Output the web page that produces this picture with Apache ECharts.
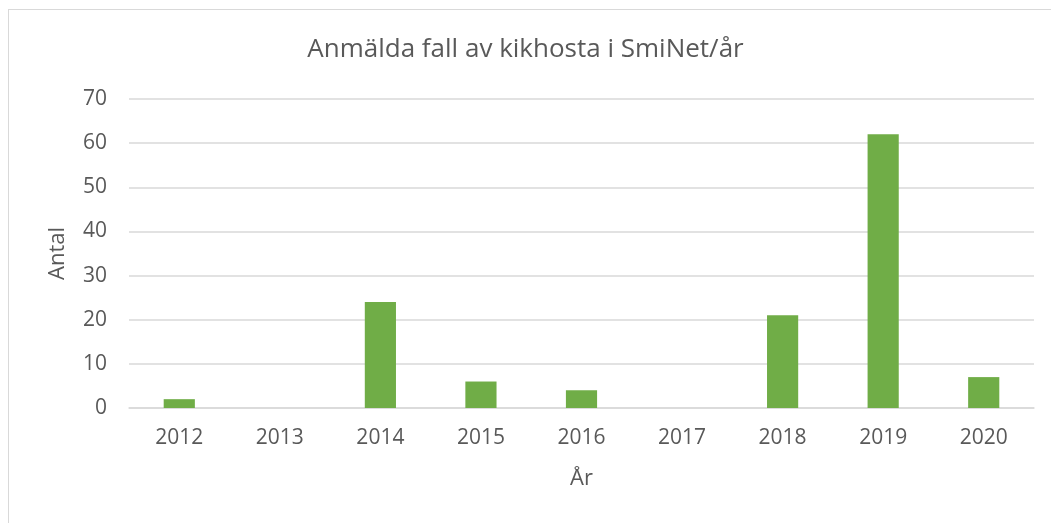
<!DOCTYPE html>
<html>
<head>
<meta charset="utf-8">
<script src="https://cdn.jsdelivr.net/npm/echarts@6/dist/echarts.min.js"></script>
<style>
  html, body { margin: 0; padding: 0; background: #fff; overflow: hidden; }
  #frame { position: absolute; left: 8px; top: 9px; width: 1100px; height: 600px; border: 1px solid #d9d9d9; box-sizing: border-box; }
  #chart { width: 1051px; height: 523px; position: absolute; left: 0; top: 0; }
</style>
</head>
<body>
<div id="frame"></div>
<div id="chart"></div>
<script>
// kategorier och värden
var years = ['2012', '2013', '2014', '2015', '2016', '2017', '2018', '2019', '2020']
var cases = [2, 0, 24, 6, 4, 0, 21, 62, 7]

var fontFamily = 'Open Sans, Noto Sans, sans-serif'
var textColor = '#595959'

var myChart = echarts.init(document.getElementById('chart'))

let option = {
    animation: false,
    title: {
        text: 'Anmälda fall av kikhosta i SmiNet/år',
        left: 'center',
        top: 32,
        textStyle: {
            fontFamily: fontFamily,
            fontSize: 26,
            fontWeight: 'normal',
            color: textColor
        }
    },
    grid: {
        left: 129,
        right: 17,
        top: 99,
        bottom: 115
    },
    xAxis: {
        type: 'category',
        data: years,
        name: 'År',
        nameLocation: 'middle',
        nameGap: 60,
        nameTextStyle: { fontFamily: fontFamily, fontSize: 22, color: textColor },
        axisLine: { lineStyle: { color: '#d9d9d9', width: 1.5 } },
        axisTick: { show: false },
        axisLabel: { fontFamily: fontFamily, fontSize: 21, color: textColor, margin: 20 }
    },
    yAxis: {
        type: 'value',
        min: 0,
        max: 70,
        interval: 10,
        name: 'Antal',
        nameLocation: 'middle',
        nameGap: 60,
        nameTextStyle: { fontFamily: fontFamily, fontSize: 22, color: textColor },
        axisLine: { show: false },
        axisTick: { show: false },
        axisLabel: { fontFamily: fontFamily, fontSize: 21, color: textColor, margin: 22 },
        splitLine: { lineStyle: { color: '#d9d9d9', width: 1.5 } }
    },
    series: [
        {
            name: 'Antal',
            type: 'bar',
            data: cases,
            barWidth: '31%',
            itemStyle: { color: '#70ad47' }
        }
    ]
}

myChart.setOption(option)
</script>
</body>
</html>
